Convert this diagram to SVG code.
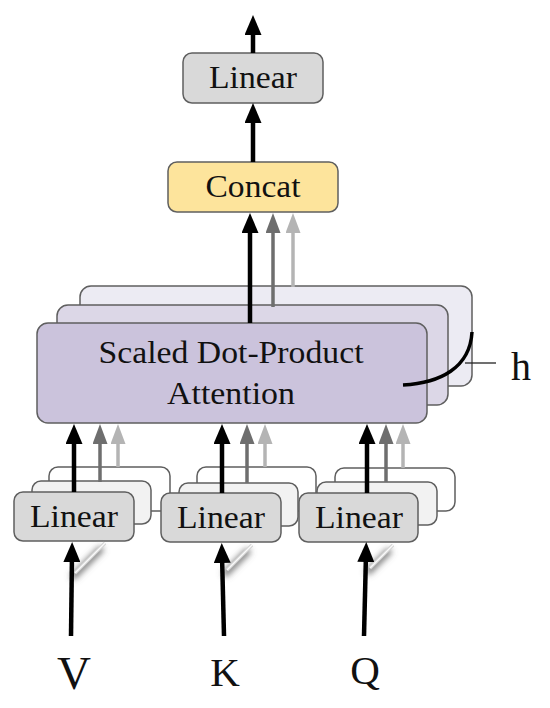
<svg xmlns="http://www.w3.org/2000/svg" width="550" height="708" viewBox="0 0 550 708">
<defs>
<style>
.t{font-family:"Liberation Serif","Times New Roman",serif;fill:#111;text-anchor:middle}
.lbl{font-size:32px}
.sd{font-size:31px}
.box{stroke:#5f5f5f;stroke-width:1.5}
.lin{fill:#d9d9d9}
.mid{fill:#f2f2f2}
.bak{fill:#ffffff}
.sf{fill:#cbc3dc}
.sm{fill:#dcd7e7}
.sb{fill:#ecebf3}
.k{stroke:#000;stroke-width:4.5;fill:none}
.d{stroke:#6e6e6e;stroke-width:3.5;fill:none}
.l{stroke:#b4b4b4;stroke-width:3.5;fill:none}
.fold{stroke:#d4d4d4;stroke-width:3.5}
.foldw{stroke:#fafafa;stroke-width:1.2}
.shadow{stroke:#6a6a6a;stroke-width:6;filter:url(#blur)}
</style>
<filter id="blur" x="-50%" y="-50%" width="200%" height="200%"><feGaussianBlur stdDeviation="3"/></filter>
<marker id="ak" viewBox="0 0 20 17" refX="8" refY="8.5" markerWidth="20" markerHeight="17" markerUnits="userSpaceOnUse" orient="auto"><path d="M0,0 L20,8.5 L0,17 Z" fill="#000"/></marker>
<marker id="ad" viewBox="0 0 20 15" refX="8" refY="7.5" markerWidth="20" markerHeight="15" markerUnits="userSpaceOnUse" orient="auto"><path d="M0,0 L20,7.5 L0,15 Z" fill="#6e6e6e"/></marker>
<marker id="al" viewBox="0 0 20 15" refX="8" refY="7.5" markerWidth="20" markerHeight="15" markerUnits="userSpaceOnUse" orient="auto"><path d="M0,0 L20,7.5 L0,15 Z" fill="#b4b4b4"/></marker>
</defs>
<rect width="550" height="708" fill="#fff"/>

<g id="linear-top">
<rect class="box lin" x="183" y="53" width="140" height="50" rx="9"/>
<text class="t lbl" x="253" y="87.5" textLength="88" lengthAdjust="spacingAndGlyphs">Linear</text>
</g>

<g id="concat">
<rect class="box" fill="#fde49c" x="168" y="162" width="170" height="50" rx="9"/>
<text class="t lbl" x="253" y="197" textLength="95" lengthAdjust="spacingAndGlyphs">Concat</text>
</g>

<g id="attention">
<rect class="box sb" x="80" y="286" width="392" height="100" rx="11"/>
<rect class="box sm" x="57" y="305" width="391" height="100" rx="11"/>
<rect class="box sf" x="37" y="323" width="390" height="100" rx="11"/>
<text class="t sd" x="231" y="362.5" textLength="265" lengthAdjust="spacingAndGlyphs">Scaled Dot-Product</text>
<text class="t sd" x="231" y="403.5" textLength="128" lengthAdjust="spacingAndGlyphs">Attention</text>
</g>

<g id="h-label">
<path d="M403,385 C440,383 470,368 472,332" fill="none" stroke="#000" stroke-width="3.5"/>
<line x1="465" y1="363" x2="496" y2="363" stroke="#222" stroke-width="1.3"/>
<text class="t" x="521" y="380" font-size="40">h</text>
</g>

<g id="linear-v">
<rect class="box bak" x="49" y="467" width="121" height="44" rx="9"/>
<rect class="box mid" x="32" y="481" width="119" height="43" rx="9"/>
<rect class="box lin" x="14" y="492" width="120" height="49" rx="9"/>
<text class="t lbl" x="74" y="527" textLength="88" lengthAdjust="spacingAndGlyphs">Linear</text>
</g>

<g id="linear-k">
<rect class="box bak" x="197" y="467" width="119" height="44" rx="9"/>
<rect class="box mid" x="179" y="483" width="119" height="43" rx="9"/>
<rect class="box lin" x="161" y="493" width="120" height="49" rx="9"/>
<text class="t lbl" x="221" y="528" textLength="88" lengthAdjust="spacingAndGlyphs">Linear</text>
</g>

<g id="linear-q">
<rect class="box bak" x="335" y="468" width="120" height="43" rx="9"/>
<rect class="box mid" x="317" y="482" width="120" height="43" rx="9"/>
<rect class="box lin" x="299" y="493" width="119" height="49" rx="9"/>
<text class="t lbl" x="359" y="528" textLength="88" lengthAdjust="spacingAndGlyphs">Linear</text>
</g>

<g id="folds">
<line class="shadow" x1="102" y1="548" x2="72" y2="578"/>
<line class="fold" x1="105" y1="543" x2="75" y2="573"/>
<line class="foldw" x1="105" y1="543" x2="75" y2="573"/>
<line class="shadow" x1="249" y1="550" x2="224" y2="575"/>
<line class="fold" x1="252" y1="545" x2="227" y2="570"/>
<line class="foldw" x1="252" y1="545" x2="227" y2="570"/>
<line class="shadow" x1="390" y1="550" x2="367" y2="573"/>
<line class="fold" x1="393" y1="545" x2="370" y2="568"/>
<line class="foldw" x1="393" y1="545" x2="370" y2="568"/>
</g>

<g id="connectors">
<line class="k" x1="253" y1="53" x2="253" y2="27" marker-end="url(#ak)"/>
<line class="k" x1="253" y1="162" x2="253" y2="115" marker-end="url(#ak)"/>
<line class="k" x1="250" y1="323" x2="250" y2="225" marker-end="url(#ak)"/>
<line class="d" x1="273" y1="307" x2="273" y2="225" marker-end="url(#ad)"/>
<line class="l" x1="293" y1="287" x2="293" y2="225" marker-end="url(#al)"/>

<line class="k" x1="74" y1="492" x2="74" y2="436" marker-end="url(#ak)"/>
<line class="d" x1="100" y1="482" x2="100" y2="436" marker-end="url(#ad)"/>
<line class="l" x1="118" y1="467" x2="118" y2="436" marker-end="url(#al)"/>

<line class="k" x1="222" y1="493" x2="222" y2="436" marker-end="url(#ak)"/>
<line class="d" x1="247" y1="483" x2="247" y2="436" marker-end="url(#ad)"/>
<line class="l" x1="265" y1="467" x2="265" y2="436" marker-end="url(#al)"/>

<line class="k" x1="367" y1="493" x2="367" y2="436" marker-end="url(#ak)"/>
<line class="d" x1="386" y1="482" x2="386" y2="436" marker-end="url(#ad)"/>
<line class="l" x1="403" y1="468" x2="403" y2="436" marker-end="url(#al)"/>

<line class="k" x1="71" y1="636" x2="72" y2="554" marker-end="url(#ak)"/>
<line class="k" x1="224" y1="636" x2="222" y2="555" marker-end="url(#ak)"/>
<line class="k" x1="364" y1="636" x2="366" y2="554" marker-end="url(#ak)"/>
</g>

<g id="input-v"><text class="t" x="74" y="689" font-size="47">V</text></g>
<g id="input-k"><text class="t" x="225" y="686" font-size="41">K</text></g>
<g id="input-q"><text class="t" x="365" y="684" font-size="41">Q</text></g>
</svg>
